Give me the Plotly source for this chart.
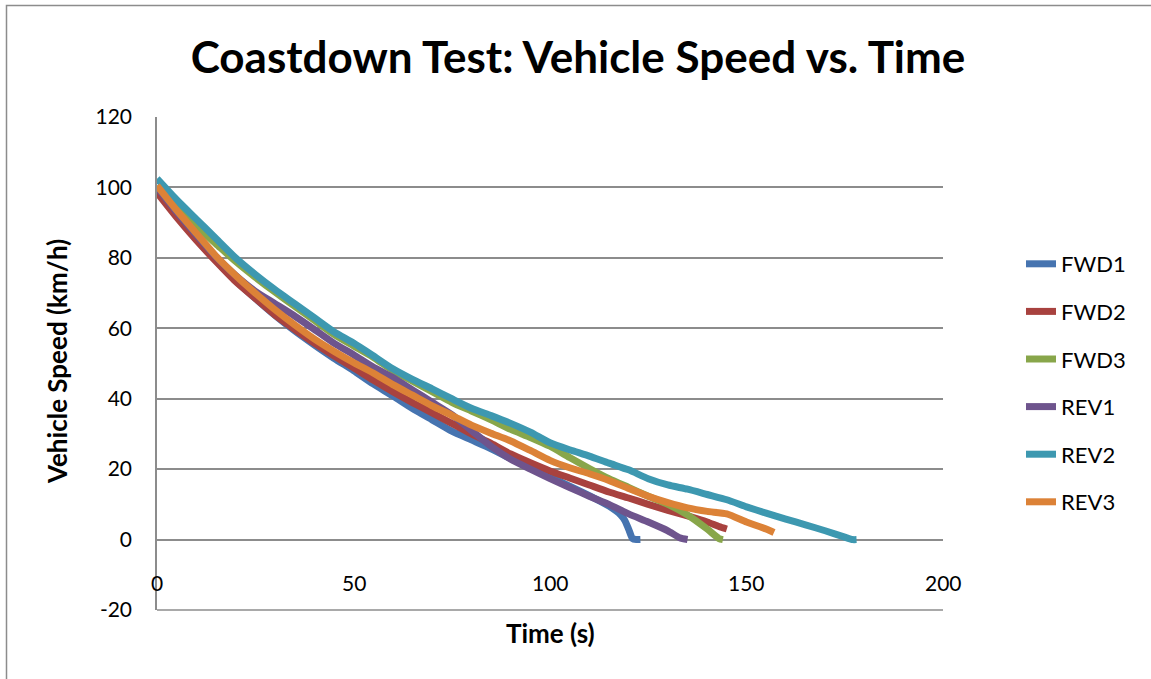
import plotly.graph_objects as go

# ---------------- data ----------------
t_fwd1 = [0, 5, 10, 15, 20, 25, 30, 35, 40, 45, 50, 55, 60, 65, 70, 75, 80, 85, 90, 95, 100, 105, 110, 115, 118, 119, 120, 121, 122, 123]
v_fwd1 = [99, 92, 85.3, 79.3, 73.5, 68.5, 63.7, 59.3, 55.3, 51.5, 48, 44.2, 40.8, 37.2, 34, 30.8, 28.3, 25.8, 23, 20.3, 17.8, 15.2, 12.5, 9.5, 7, 5.5, 3, 0.3, 0, 0]

t_fwd2 = [0, 5, 10, 15, 20, 25, 30, 35, 40, 45, 50, 55, 60, 65, 70, 75, 80, 85, 90, 95, 100, 105, 110, 115, 120, 125, 130, 135, 140, 143, 145]
v_fwd2 = [98.5, 91.5, 85, 79, 73.3, 68.5, 63.8, 59.7, 55.8, 52.2, 48.8, 45.3, 42, 38.9, 36, 33, 30, 27.3, 24.3, 21.8, 19.5, 17.5, 15.5, 13.5, 11.8, 10, 8.3, 6.7, 5, 3.7, 3]

t_fwd3 = [0, 5, 10, 15, 20, 25, 30, 35, 40, 45, 50, 55, 60, 65, 70, 75, 80, 85, 90, 95, 100, 105, 110, 115, 120, 125, 130, 135, 140, 143, 144]
v_fwd3 = [100.5, 94.5, 89, 84, 79, 74.5, 70.3, 66.3, 62.3, 58.3, 55, 51.8, 48, 45, 42, 39, 36.5, 34, 31.3, 29, 26.5, 23.3, 20.2, 17.3, 14.8, 12.3, 10, 7, 3, 0.3, 0]

t_rev1 = [0, 5, 10, 15, 20, 25, 30, 35, 40, 45, 50, 55, 60, 65, 70, 75, 80, 85, 90, 95, 100, 105, 110, 115, 120, 125, 130, 133, 135]
v_rev1 = [100, 93, 86.5, 80.3, 75, 70.5, 67, 63.5, 59.7, 55.8, 52.5, 49, 46, 42.5, 39, 35.5, 31, 26.5, 22.8, 20, 17.3, 14.8, 12.3, 10, 7.3, 5, 2.5, 0.5, 0]

t_rev2 = [0, 5, 10, 15, 20, 25, 30, 35, 40, 45, 50, 55, 60, 65, 70, 75, 80, 85, 90, 95, 100, 105, 110, 115, 120, 125, 130, 135, 140, 145, 150, 155, 160, 165, 170, 175, 177, 178]
v_rev2 = [102.5, 96.5, 91, 85.5, 80, 75.3, 71, 67, 63, 59, 55.8, 52.2, 48.5, 45.5, 42.8, 40, 37.3, 35.2, 33, 30.5, 27.5, 25.5, 23.7, 21.7, 19.8, 17.3, 15.5, 14.3, 12.8, 11.3, 9.3, 7.5, 5.8, 4.2, 2.5, 0.7, 0, 0]

t_rev3 = [0, 5, 10, 15, 20, 25, 30, 35, 40, 45, 50, 55, 60, 65, 70, 75, 80, 85, 90, 95, 100, 105, 110, 115, 120, 125, 130, 135, 140, 145, 150, 155, 157]
v_rev3 = [100.5, 93.5, 87, 80.5, 75, 70, 65.3, 61, 57, 53.5, 50.3, 47.3, 44, 41, 38, 35.3, 32.5, 30.2, 28, 25.3, 22.5, 20.4, 18.7, 16.8, 14.5, 12.3, 10.5, 9, 8, 7.3, 5, 3, 2]

series_names = ["FWD1", "FWD2", "FWD3", "REV1", "REV2", "REV3"]
x_tick_vals = [0, 50, 100, 150, 200]
y_tick_vals = [-20, 0, 20, 40, 60, 80, 100, 120]
y_tick_text = ["-20", "0", "20", "40", "60", "80", "100", "120"]

# ---------------- style ----------------
colors = ["#4674B0", "#A8423F", "#88A64A", "#6E548D", "#3D98B0", "#DC8237"]
FONT = "Lato, 'Open Sans', sans-serif"

W, H = 1151, 679
ML, MR, MT, MB = 157, 208, 117, 69
PW, PH = W - ML - MR, H - MT - MB

def px2paper_x(px):
    return (px - ML) / PW

def px2paper_y(py):
    return (H - MB - py) / PH

fig = go.Figure()
data = [(t_fwd1, v_fwd1), (t_fwd2, v_fwd2), (t_fwd3, v_fwd3),
        (t_rev1, v_rev1), (t_rev2, v_rev2), (t_rev3, v_rev3)]
for i, (name, (tx, vy)) in enumerate(zip(series_names, data)):
    fig.add_trace(go.Scatter(
        x=tx, y=vy, mode="lines", name=name, legendgroup=name,
        line=dict(color=colors[i], width=7, shape="spline", smoothing=0.6),
    ))

fig.update_layout(
    width=W, height=H,
    margin=dict(l=ML, r=MR, t=MT, b=MB, autoexpand=False),
    paper_bgcolor="white", plot_bgcolor="white",
    font=dict(family=FONT, size=21, color="black"),
    title=dict(text="<b>Coastdown Test: Vehicle Speed vs. Time</b>",
               x=578 / W, xanchor="center",
               y=1 - 58 / H, yanchor="middle",
               font=dict(family=FONT, size=44, color="black")),
    showlegend=True,
    legend=dict(x=px2paper_x(1021), xanchor="left", y=px2paper_y(243), yanchor="top",
                font=dict(family=FONT, size=22, color="black"),
                tracegroupgap=16, bgcolor="rgba(0,0,0,0)"),
    xaxis=dict(range=[0, 200], tickvals=x_tick_vals, showticklabels=False,
               showgrid=False, zeroline=False, showline=False, ticks=""),
    yaxis=dict(range=[-20, 120], tickvals=y_tick_vals, ticktext=y_tick_text,
               showgrid=True, gridcolor="#8C8C8C", gridwidth=1.5, zeroline=False,
               showline=True, linecolor="#8C8C8C", linewidth=1.5,
               ticks="", ticklabelstandoff=19,
               tickfont=dict(family=FONT, size=21, color="black")),
)

# x tick labels placed just below the zero line (as in the source chart)
for xv in x_tick_vals:
    fig.add_annotation(x=xv, xref="x", y=0, yref="y", text=str(xv),
                       showarrow=False, yanchor="middle", yshift=-43,
                       font=dict(family=FONT, size=21, color="black"))

# bottom axis line at -20
fig.add_shape(type="line", xref="paper", yref="paper", x0=0, x1=1, y0=0, y1=0,
              line=dict(color="#8C8C8C", width=1.5))

# axis titles
fig.add_annotation(text="<b>Time (s)</b>", xref="paper", yref="paper",
                   x=px2paper_x(550), y=px2paper_y(633), showarrow=False,
                   xanchor="center", yanchor="middle",
                   font=dict(family=FONT, size=26, color="black"))
fig.add_annotation(text="<b>Vehicle Speed (km/h)</b>", xref="paper", yref="paper",
                   x=px2paper_x(57), y=px2paper_y(362), showarrow=False, textangle=-90,
                   xanchor="center", yanchor="middle",
                   font=dict(family=FONT, size=26, color="black"))

# chart outer border (only top and left visible in the source crop)
fig.add_shape(type="rect", xref="paper", yref="paper",
              x0=px2paper_x(6.5), x1=px2paper_x(1170),
              y0=px2paper_y(700), y1=px2paper_y(5.5),
              line=dict(color="#8C8C8C", width=1.5), layer="below")

fig.write_html("out.html", config={"displayModeBar": False},
               post_script="document.body.style.margin='0';document.body.style.padding='0';")
